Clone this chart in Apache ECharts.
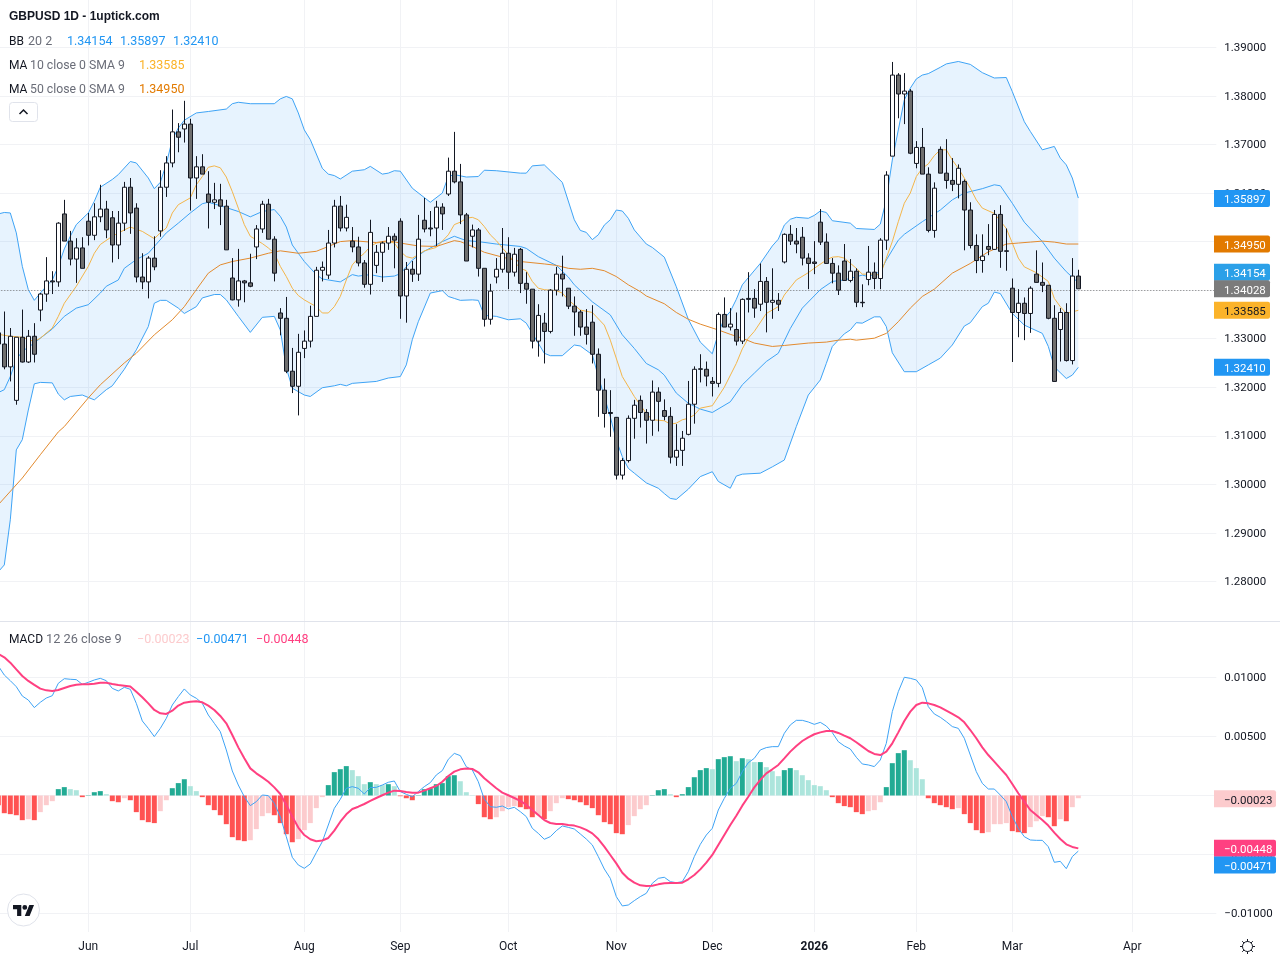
<!DOCTYPE html>
<html>
<head>
<meta charset="utf-8">
<title>GBPUSD 1D</title>
<style>
  html, body { margin: 0; padding: 0; background: #fff; }
  #mychart { width: 1280px; height: 960px; }
</style>
<script src="https://cdn.jsdelivr.net/npm/echarts@6/dist/echarts.min.js"></script>
</head>
<body>
<div id="mychart"></div>
<script>
// tick labels, bar numbers count from the first fully visible candle
const priceTicks = [1.28, 1.29, 1.3, 1.31, 1.32, 1.33, 1.34, 1.35, 1.36, 1.37, 1.38, 1.39];
const macdTicks = [-0.01, -0.005, 0, 0.005, 0.01];
const monthBars = [14, 31, 50, 66, 84, 102, 118, 135, 152, 168, 188];
const monthNames = ['Jun', 'Jul', 'Aug', 'Sep', 'Oct', 'Nov', 'Dec', '2026', 'Feb', 'Mar', 'Apr'];

// open, close, low, high, one row per day starting at bar -1
const candles = [
  [1.3312,1.3289,1.3250,1.3361],[1.3289,1.3242,1.3237,1.3356],[1.3242,1.3305,1.3212,1.3322],[1.3173,1.3303,1.3164,1.3303],
  [1.3303,1.3252,1.3251,1.3360],[1.3252,1.3305,1.3250,1.3318],[1.3305,1.3268,1.3251,1.3332],[1.3359,1.3392,1.3336,1.3394],
  [1.3392,1.3419,1.3376,1.3468],[1.3419,1.3417,1.3392,1.3439],[1.3417,1.3538,1.3407,1.3540],[1.3557,1.3501,1.3501,1.3586],
  [1.3501,1.3464,1.3451,1.3522],[1.3464,1.3487,1.3415,1.3507],[1.3487,1.3445,1.3445,1.3509],[1.3542,1.3513,1.3492,1.3559],
  [1.3513,1.3551,1.3503,1.3579],[1.3551,1.3567,1.3540,1.3617],[1.3567,1.3524,1.3507,1.3584],[1.3549,1.3493,1.3457,1.3563],
  [1.3493,1.3538,1.3464,1.3563],[1.3538,1.3612,1.3522,1.3623],[1.3612,1.3559,1.3516,1.3631],[1.3569,1.3427,1.3416,1.3579],
  [1.3427,1.3417,1.3402,1.3476],[1.3417,1.3466,1.3383,1.3470],[1.3466,1.3448,1.3441,1.3511],[1.3522,1.3612,1.3510,1.3647],
  [1.3612,1.3662,1.3592,1.3676],[1.3662,1.3726,1.3653,1.3772],[1.3726,1.3715,1.3684,1.3744],[1.3732,1.3742,1.3704,1.3790],
  [1.3742,1.3631,1.3564,1.3753],[1.3631,1.3654,1.3588,1.3676],[1.3654,1.3639,1.3639,1.3680],[1.3598,1.3581,1.3527,1.3645],
  [1.3581,1.3586,1.3567,1.3621],[1.3586,1.3573,1.3534,1.3619],[1.3573,1.3483,1.3483,1.3586],[1.3425,1.3380,1.3379,1.3466],
  [1.3380,1.3419,1.3366,1.3485],[1.3419,1.3415,1.3375,1.3421],[1.3415,1.3408,1.3406,1.3475],[1.3489,1.3526,1.3464,1.3534],
  [1.3526,1.3577,1.3518,1.3584],[1.3577,1.3505,1.3505,1.3588],[1.3505,1.3435,1.3418,1.3511],[1.3353,1.3342,1.3307,1.3363],
  [1.3342,1.3233,1.3229,1.3386],[1.3233,1.3202,1.3188,1.3281],[1.3202,1.3272,1.3142,1.3310],[1.3280,1.3295,1.3260,1.3317],
  [1.3295,1.3346,1.3282,1.3368],[1.3346,1.3441,1.3346,1.3448],[1.3441,1.3447,1.3418,1.3459],[1.3431,1.3497,1.3423,1.3524],
  [1.3497,1.3573,1.3488,1.3586],[1.3573,1.3528,1.3521,1.3594],[1.3528,1.3550,1.3521,1.3576],[1.3501,1.3489,1.3478,1.3530],
  [1.3489,1.3456,1.3449,1.3510],[1.3456,1.3412,1.3405,1.3462],[1.3412,1.3519,1.3391,1.3545],[1.3451,1.3478,1.3435,1.3493],
  [1.3478,1.3497,1.3417,1.3500],[1.3497,1.3511,1.3483,1.3530],[1.3511,1.3503,1.3445,1.3517],[1.3542,1.3388,1.3341,1.3548],
  [1.3388,1.3443,1.3333,1.3458],[1.3443,1.3433,1.3417,1.3460],[1.3433,1.3505,1.3419,1.3555],[1.3544,1.3526,1.3519,1.3590],
  [1.3528,1.3526,1.3511,1.3563],[1.3528,1.3571,1.3491,1.3584],[1.3571,1.3557,1.3524,1.3579],[1.3598,1.3645,1.3594,1.3673],
  [1.3645,1.3623,1.3620,1.3726],[1.3623,1.3555,1.3536,1.3660],[1.3555,1.3460,1.3460,1.3559],[1.3511,1.3524,1.3488,1.3535],
  [1.3524,1.3445,1.3428,1.3528],[1.3445,1.3340,1.3325,1.3445],[1.3340,1.3398,1.3329,1.3413],[1.3427,1.3443,1.3414,1.3466],
  [1.3443,1.3476,1.3436,1.3528],[1.3476,1.3437,1.3402,1.3509],[1.3437,1.3474,1.3428,1.3487],[1.3484,1.3414,1.3394,1.3487],
  [1.3414,1.3402,1.3372,1.3437],[1.3402,1.3295,1.3280,1.3402],[1.3295,1.3348,1.3263,1.3371],[1.3332,1.3315,1.3249,1.3353],
  [1.3315,1.3400,1.3311,1.3402],[1.3400,1.3433,1.3389,1.3448],[1.3433,1.3423,1.3387,1.3471],[1.3404,1.3367,1.3361,1.3404],
  [1.3367,1.3355,1.3306,1.3387],[1.3355,1.3324,1.3306,1.3359],[1.3324,1.3309,1.3288,1.3361],[1.3334,1.3268,1.3249,1.3369],
  [1.3268,1.3194,1.3139,1.3280],[1.3194,1.3146,1.3117,1.3218],[1.3148,1.3146,1.3098,1.3194],[1.3138,1.3019,1.3010,1.3138],
  [1.3019,1.3049,1.3010,1.3054],[1.3049,1.3136,1.3045,1.3142],[1.3136,1.3163,1.3094,1.3174],[1.3173,1.3148,1.3117,1.3183],
  [1.3148,1.3132,1.3084,1.3155],[1.3132,1.3190,1.3100,1.3214],[1.3190,1.3171,1.3109,1.3200],[1.3152,1.3140,1.3132,1.3175],
  [1.3140,1.3056,1.3043,1.3159],[1.3056,1.3070,1.3038,1.3124],[1.3070,1.3095,1.3038,1.3110],[1.3103,1.3165,1.3101,1.3213],
  [1.3165,1.3237,1.3125,1.3243],[1.3238,1.3237,1.3210,1.3268],[1.3237,1.3223,1.3202,1.3253],[1.3212,1.3208,1.3181,1.3221],
  [1.3208,1.3350,1.3200,1.3354],[1.3350,1.3324,1.3324,1.3385],[1.3324,1.3330,1.3317,1.3363],[1.3319,1.3295,1.3286,1.3354],
  [1.3295,1.3381,1.3289,1.3383],[1.3383,1.3381,1.3354,1.3437],[1.3383,1.3363,1.3343,1.3402],[1.3371,1.3418,1.3357,1.3455],
  [1.3418,1.3375,1.3313,1.3427],[1.3375,1.3379,1.3341,1.3445],[1.3379,1.3371,1.3357,1.3394],[1.3458,1.3515,1.3455,1.3517],
  [1.3515,1.3501,1.3493,1.3534],[1.3501,1.3495,1.3476,1.3528],[1.3509,1.3466,1.3451,1.3530],[1.3466,1.3455,1.3402,1.3476],
  [1.3458,1.3455,1.3433,1.3501],[1.3540,1.3499,1.3493,1.3567],[1.3499,1.3455,1.3455,1.3517],[1.3455,1.3435,1.3414,1.3466],
  [1.3435,1.3400,1.3390,1.3451],[1.3460,1.3420,1.3420,1.3495],[1.3420,1.3439,1.3416,1.3464],[1.3439,1.3375,1.3365,1.3445],
  [1.3375,1.3374,1.3365,1.3412],[1.3422,1.3437,1.3410,1.3491],[1.3437,1.3424,1.3402,1.3457],[1.3424,1.3503,1.3402,1.3507],
  [1.3503,1.3637,1.3483,1.3645],[1.3676,1.3843,1.3676,1.3870],[1.3843,1.3804,1.3754,1.3847],[1.3804,1.3810,1.3742,1.3847],
  [1.3810,1.3682,1.3680,1.3814],[1.3661,1.3694,1.3651,1.3707],[1.3694,1.3639,1.3639,1.3734],[1.3639,1.3523,1.3519,1.3653],
  [1.3523,1.3610,1.3508,1.3622],[1.3690,1.3641,1.3641,1.3696],[1.3641,1.3626,1.3609,1.3711],[1.3626,1.3618,1.3604,1.3672],
  [1.3618,1.3651,1.3589,1.3659],[1.3624,1.3565,1.3482,1.3628],[1.3565,1.3492,1.3486,1.3581],[1.3492,1.3461,1.3435,1.3515],
  [1.3461,1.3470,1.3436,1.3515],[1.3490,1.3484,1.3472,1.3536],[1.3484,1.3556,1.3483,1.3565],[1.3556,1.3480,1.3446,1.3575],
  [1.3481,1.3480,1.3440,1.3527],[1.3404,1.3354,1.3252,1.3424],[1.3354,1.3373,1.3303,1.3402],[1.3373,1.3352,1.3297,1.3385],
  [1.3352,1.3404,1.3312,1.3408],[1.3433,1.3416,1.3416,1.3482],[1.3416,1.3410,1.3396,1.3457],[1.3410,1.3342,1.3340,1.3410],
  [1.3342,1.3212,1.3212,1.3369],[1.3319,1.3354,1.3253,1.3363],[1.3354,1.3255,1.3253,1.3373],[1.3255,1.3429,1.3247,1.3466],
  [1.3429,1.34028,1.34028,1.3442]
];

const bbUpper = [[-1,1.3557],[0,1.3560],[1,1.3559],[2,1.3518],[3,1.3449],[4,1.3401],[5,1.3379],[6,1.3394],[7,1.3408],[8,1.3421],[9,1.3449],[10,1.3485],[11,1.3511],[12,1.3535],[14,1.3559],[15,1.3583],[16,1.3612],[18,1.3628],[19,1.3638],[21,1.3665],[22,1.3662],[24,1.3631],[25,1.3609],[26,1.3622],[27,1.3660],[28,1.3710],[29,1.3734],[30,1.3750],[32,1.3765],[34,1.3768],[37,1.3773],[38,1.3784],[39,1.3787],[41,1.3784],[45,1.3784],[46,1.3794],[47,1.3799],[48,1.3794],[49,1.3765],[50,1.3730],[51,1.3710],[53,1.3651],[54,1.3639],[55,1.3636],[56,1.3629],[58,1.3645],[60,1.3648],[61,1.3655],[63,1.3639],[64,1.3641],[65,1.3646],[66,1.3645],[68,1.3610],[71,1.3581],[73,1.3600],[74,1.3634],[75,1.3638],[77,1.3633],[79,1.3634],[80,1.3647],[82,1.3646],[86,1.3641],[87,1.3641],[88,1.3656],[90,1.3658],[93,1.3622],[95,1.3545],[96,1.3523],[97,1.3519],[98,1.3504],[99,1.3514],[100,1.3534],[101,1.3545],[102,1.3565],[103,1.3563],[104,1.3548],[105,1.3524],[107,1.3495],[108,1.3488],[110,1.3468],[112,1.3407],[114,1.3340],[116,1.3293],[118,1.3269],[119,1.3311],[120,1.3342],[121,1.3356],[122,1.3381],[123,1.3411],[126,1.3455],[128,1.3491],[129,1.3505],[130,1.3534],[131,1.3546],[132,1.3550],[134,1.3548],[135,1.3554],[136,1.3563],[137,1.3560],[138,1.3543],[141,1.3538],[142,1.3527],[145,1.3525],[146,1.3536],[147,1.3586],[148,1.3668],[149,1.3730],[150,1.3792],[151,1.3816],[152,1.3835],[153,1.3843],[154,1.3846],[156,1.3859],[157,1.3866],[159,1.3871],[161,1.3865],[163,1.3848],[165,1.3837],[167,1.3838],[168,1.3809],[170,1.3747],[171,1.3727],[173,1.3689],[175,1.3696],[176,1.3672],[177,1.3658],[178,1.3631],[179,1.35897]];
const bbMiddle = [[-1,1.3189],[0,1.3195],[1,1.3222],[2,1.3257],[3,1.3274],[5,1.3291],[6,1.3301],[8,1.3320],[10,1.3346],[12,1.3363],[14,1.3370],[16,1.3394],[17,1.3408],[19,1.3421],[20,1.3445],[22,1.3463],[24,1.3476],[25,1.3490],[27,1.3518],[29,1.3538],[31,1.3559],[33,1.3578],[34,1.3581],[36,1.3574],[39,1.3562],[41,1.3551],[43,1.3562],[45,1.3566],[46,1.3552],[47,1.3530],[48,1.3493],[50,1.3459],[52,1.3432],[53,1.3423],[56,1.3417],[58,1.3432],[59,1.3429],[61,1.3432],[63,1.3427],[65,1.3429],[66,1.3434],[68,1.3462],[70,1.3480],[73,1.3500],[75,1.3511],[77,1.3502],[79,1.3500],[82,1.3495],[86,1.3490],[87,1.3486],[89,1.3469],[92,1.3451],[94,1.3427],[95,1.3411],[98,1.3376],[101,1.3349],[103,1.3308],[105,1.3280],[107,1.3249],[109,1.3236],[110,1.3225],[112,1.3188],[114,1.3167],[116,1.3155],[118,1.3148],[121,1.3170],[123,1.3205],[125,1.3229],[127,1.3253],[129,1.3270],[131,1.3321],[133,1.3363],[136,1.3401],[138,1.3418],[140,1.3421],[143,1.3431],[144,1.3428],[146,1.3438],[147,1.3462],[149,1.3503],[150,1.3515],[153,1.3541],[156,1.3565],[158,1.3586],[160,1.3600],[163,1.3609],[165,1.3617],[166,1.3615],[168,1.3579],[170,1.3540],[173,1.3500],[175,1.3466],[177,1.3438],[179,1.34154]];
const bbLower = [[-1,1.2820],[0,1.2834],[1,1.2927],[2,1.3071],[3,1.3092],[4,1.3153],[5,1.3207],[6,1.3210],[8,1.3209],[9,1.3186],[10,1.3174],[11,1.3181],[13,1.3184],[15,1.3174],[17,1.3195],[18,1.3203],[20,1.3237],[22,1.3277],[24,1.3325],[25,1.3373],[26,1.3379],[27,1.3379],[29,1.3363],[30,1.3352],[32,1.3366],[33,1.3384],[35,1.3391],[36,1.3391],[37,1.3380],[39,1.3346],[41,1.3313],[43,1.3344],[45,1.3346],[46,1.3318],[47,1.3240],[48,1.3198],[49,1.3191],[50,1.3184],[51,1.3181],[53,1.3199],[55,1.3203],[56,1.3206],[57,1.3203],[58,1.3208],[62,1.3212],[64,1.3219],[66,1.3222],[67,1.3246],[68,1.3298],[69,1.3335],[71,1.3394],[73,1.3399],[74,1.3387],[75,1.3383],[76,1.3379],[78,1.3380],[79,1.3379],[80,1.3348],[82,1.3346],[84,1.3339],[86,1.3341],[87,1.3332],[88,1.3311],[90,1.3270],[91,1.3265],[93,1.3265],[95,1.3287],[96,1.3285],[98,1.3267],[99,1.3222],[100,1.3181],[101,1.3139],[102,1.3091],[103,1.3057],[104,1.3033],[105,1.3023],[107,1.3003],[109,1.2992],[110,1.2981],[111,1.2971],[112,1.2969],[114,1.2990],[116,1.3016],[118,1.3026],[119,1.3006],[121,1.2992],[122,1.3017],[123,1.3021],[126,1.3023],[128,1.3036],[130,1.3050],[132,1.3119],[134,1.3184],[136,1.3215],[137,1.3249],[138,1.3284],[140,1.3310],[141,1.3318],[142,1.3333],[143,1.3332],[145,1.3345],[146,1.3345],[147,1.3325],[148,1.3271],[150,1.3232],[152,1.3232],[154,1.3246],[156,1.3260],[158,1.3287],[160,1.3326],[161,1.3333],[163,1.3366],[164,1.3373],[165,1.3396],[166,1.3393],[168,1.3352],[170,1.3328],[173,1.3311],[174,1.3284],[175,1.3242],[177,1.3218],[178,1.3225],[179,1.3241]];
const ma10 = [[-1,1.3309],[1,1.3305],[3,1.3303],[5,1.3294],[6,1.3301],[8,1.3322],[9,1.3346],[10,1.3373],[12,1.3408],[14,1.3449],[15,1.3476],[16,1.3494],[18,1.3511],[20,1.3524],[21,1.3530],[23,1.3521],[25,1.3506],[26,1.3518],[27,1.3528],[28,1.3559],[29,1.3576],[31,1.3590],[32,1.3617],[33,1.3634],[34,1.3653],[35,1.3656],[36,1.3652],[37,1.3633],[38,1.3603],[39,1.3569],[40,1.3535],[41,1.3511],[43,1.3496],[44,1.3487],[45,1.3476],[46,1.3449],[47,1.3428],[48,1.3404],[49,1.3389],[50,1.3380],[52,1.3366],[53,1.3353],[54,1.3353],[55,1.3366],[56,1.3387],[57,1.3421],[58,1.3452],[59,1.3466],[60,1.3476],[61,1.3490],[62,1.3497],[63,1.3499],[64,1.3500],[65,1.3497],[66,1.3480],[67,1.3469],[68,1.3466],[69,1.3473],[70,1.3481],[72,1.3488],[74,1.3514],[75,1.3535],[76,1.3540],[77,1.3548],[78,1.3550],[79,1.3545],[80,1.3531],[81,1.3514],[82,1.3502],[83,1.3487],[84,1.3473],[85,1.3459],[86,1.3445],[87,1.3440],[88,1.3418],[89,1.3404],[90,1.3401],[92,1.3399],[93,1.3394],[94,1.3380],[96,1.3359],[98,1.3354],[100,1.3328],[101,1.3297],[103,1.3222],[105,1.3181],[107,1.3146],[108,1.3133],[110,1.3131],[111,1.3124],[112,1.3126],[113,1.3133],[114,1.3136],[115,1.3143],[116,1.3157],[118,1.3162],[119,1.3181],[120,1.3200],[122,1.3249],[123,1.3279],[124,1.3301],[125,1.3315],[127,1.3352],[129,1.3366],[130,1.3390],[132,1.3421],[134,1.3436],[135,1.3445],[137,1.3462],[138,1.3468],[139,1.3469],[140,1.3466],[142,1.3445],[143,1.3433],[145,1.3433],[146,1.3431],[147,1.3466],[148,1.3500],[149,1.3541],[150,1.3579],[151,1.3600],[152,1.3634],[153,1.3651],[154,1.3660],[155,1.3677],[156,1.3689],[157,1.3689],[158,1.3668],[159,1.3651],[160,1.3631],[161,1.3610],[162,1.3586],[163,1.3569],[165,1.3558],[167,1.3527],[168,1.3497],[169,1.3466],[170,1.3448],[171,1.3442],[172,1.3436],[174,1.3418],[175,1.3383],[176,1.3366],[177,1.3352],[179,1.33585]];
const ma50 = [[-1,1.2958],[3,1.3013],[6,1.3061],[9,1.3108],[10,1.3119],[14,1.3178],[16,1.3205],[20,1.3250],[22,1.3270],[25,1.3308],[28,1.3339],[30,1.3366],[32,1.3401],[34,1.3435],[36,1.3452],[38,1.3459],[41,1.3466],[44,1.3476],[46,1.3481],[49,1.3476],[52,1.3480],[54,1.3490],[56,1.3500],[58,1.3502],[62,1.3498],[64,1.3502],[66,1.3497],[69,1.3491],[72,1.3490],[75,1.3502],[76,1.3500],[78,1.3490],[80,1.3478],[83,1.3468],[86,1.3459],[90,1.3454],[92,1.3451],[94,1.3445],[96,1.3443],[98,1.3445],[100,1.3440],[102,1.3428],[104,1.3411],[106,1.3397],[107,1.3388],[110,1.3372],[112,1.3354],[114,1.3340],[116,1.3330],[119,1.3318],[121,1.3309],[123,1.3301],[125,1.3291],[128,1.3284],[130,1.3286],[134,1.3291],[137,1.3293],[139,1.3297],[141,1.3299],[142,1.3297],[145,1.3301],[147,1.3311],[149,1.3335],[151,1.3363],[153,1.3387],[155,1.3402],[158,1.3435],[161,1.3455],[164,1.3479],[167,1.3495],[169,1.3497],[171,1.3499],[173,1.3501],[175,1.3499],[177,1.3495],[179,1.3495]];

// MACD pane, one value per day starting at bar -1
const macdHist = [-.00082,-.0015,-.00158,-.00167,-.00209,-.00201,-.00209,-.00141,-.00082,-.00048,.00054,.00071,.00054,.00045,-.00014,.00003,.00028,.00037,.00011,-.00048,-.00057,-.00023,-.0004,-.00141,-.00209,-.00226,-.00234,-.00133,-.0004,.00062,.00105,.00138,.00079,.00037,-.00014,-.00082,-.00124,-.00167,-.00243,-.00353,-.00379,-.00387,-.00379,-.00285,-.00175,-.0015,-.00167,-.00234,-.00328,-.00396,-.0037,-.00294,-.00234,-.00107,-.00014,.00088,.00198,.00223,.00249,.00215,.00164,.00096,.00113,.00096,.00088,.00096,.00079,-.00006,-.00023,-.0004,.00003,.00054,.00062,.00096,.00105,.00164,.00172,.00121,.00028,.00003,-.00073,-.00184,-.00201,-.00184,-.00133,-.00099,-.0009,-.00099,-.00116,-.00184,-.00167,-.00201,-.00133,-.00065,-.00023,-.00031,-.0004,-.00057,-.00082,-.00107,-.00167,-.00226,-.00243,-.00319,-.00328,-.00251,-.00175,-.00116,-.00082,.00003,.00045,.00054,.00011,-.00014,.00011,.00071,.00155,.00215,.00232,.00223,.00308,.00325,.00333,.00291,.00316,.00308,.00283,.00283,.0024,.00206,.00164,.00215,.00232,.00215,.00172,.0013,.00088,.00079,.00045,-.00014,-.00065,-.0009,-.00099,-.00141,-.00158,-.00133,-.00124,-.00057,.00071,.00274,.00359,.00384,.00299,.00232,.00138,-.00023,-.00065,-.00082,-.00099,-.00116,-.00107,-.00158,-.00234,-.00294,-.00319,-.00311,-.00243,-.00243,-.00234,-.00302,-.00311,-.00319,-.00268,-.00218,-.00175,-.00184,-.0026,-.00201,-.00218,-.00099,-.00023];
const macdLine = [.01098,.01021,.00973,.00922,.00843,.00809,.00745,.0079,.00826,.00846,.00951,.0099,.00985,.00982,.00942,.00959,.00979,.00993,.00973,.00908,.00886,.00917,.009,.00781,.00632,.00569,.00499,.00569,.00654,.00767,.00838,.00903,.00852,.00824,.00781,.00682,.00612,.00541,.00386,.00208,.00089,-.0001,-.00086,-.00052,.00004,-.00001,-.00066,-.00179,-.00349,-.00524,-.00589,-.00617,-.0058,-.00484,-.00391,-.0025,-.00109,-.00032,.00061,.00075,.00061,.00013,.00067,.00069,.00089,.00112,.00123,.00033,.0001,-.0001,.00033,.00075,.00109,.00174,.00211,.00307,.00357,.00338,.00244,.00216,.00117,-.00032,-.00095,-.001,-.00089,-.00114,-.001,-.00137,-.00179,-.00278,-.00321,-.00371,-.00349,-.00298,-.00258,-.0027,-.00284,-.00326,-.00369,-.00419,-.00518,-.00623,-.00702,-.00857,-.00936,-.00928,-.00891,-.00857,-.00829,-.00744,-.00702,-.00693,-.0073,-.00739,-.0073,-.00645,-.00518,-.00414,-.00335,-.00278,-.00123,-.00024,.00061,.00103,.00202,.00278,.00315,.00386,.00406,.00414,.00414,.00527,.00598,.00637,.00637,.00623,.00603,.0062,.00589,.00533,.00456,.0042,.00394,.00324,.00267,.00259,.00245,.00301,.00442,.00711,.0088,.01002,.00993,.00979,.00914,.00753,.00691,.00663,.00626,.00584,.00569,.00485,.00343,.00202,.00103,.00055,.00055,.00004,-.00052,-.00179,-.00278,-.00349,-.00377,-.0038,-.0038,-.00434,-.00566,-.00558,-.0062,-.00518,-.00471];
const signalLine = [.01199,.01171,.01126,.01069,.01013,.00971,.00937,.00906,.00891,.00886,.00894,.00911,.00928,.00939,.00942,.00942,.00948,.00956,.00956,.00945,.00937,.00931,.00923,.0088,.00832,.00781,.00725,.00697,.00691,.00719,.00762,.00787,.00795,.00798,.0079,.00762,.00725,.00674,.00612,.00513,.00408,.00315,.0023,.00188,.00154,.00117,.00069,.00013,-.0008,-.00179,-.00272,-.00335,-.00371,-.00388,-.00381,-.0036,-.00298,-.00222,-.00159,-.00114,-.00095,-.00072,-.00046,-.00021,.00002,.00024,.00041,.00038,.0003,.00024,.00024,.00041,.00061,.00081,.00117,.00165,.00202,.00222,.00228,.00225,.00197,.00146,.00103,.00061,.00024,.00002,-.00021,-.00046,-.0008,-.00123,-.00165,-.00208,-.00233,-.00241,-.00241,-.0025,-.00255,-.0027,-.00292,-.00321,-.00369,-.00434,-.00504,-.00575,-.00654,-.00705,-.00739,-.00761,-.00767,-.00764,-.00753,-.00744,-.00741,-.00741,-.00739,-.0071,-.00674,-.00626,-.00569,-.00504,-.00419,-.00335,-.0025,-.00171,-.00086,-.0001,.00069,.00132,.00188,.00222,.00259,.00315,.00372,.0042,.00462,.00493,.00519,.00535,.00547,.00547,.0053,.00507,.00485,.00451,.00414,.00377,.00352,.00343,.00372,.00442,.00535,.00632,.00711,.00767,.00787,.00781,.00767,.00747,.00719,.00691,.00663,.0062,.00555,.00485,.00408,.00343,.00287,.0023,.00174,.00098,.00019,-.00052,-.00123,-.00165,-.00208,-.00255,-.00315,-.00369,-.00414,-.00436,-.00448];

// last values shown in the legends and on the right scale
const lastClose = 1.34028;
const lastBB = [1.34154, 1.35897, 1.3241];
const lastMA10 = 1.33585;
const lastMA50 = 1.3495;
const lastHist = -0.00023;
const lastMacd = -0.00471;
const lastSignal = -0.00448;

const colors = {
  text: '#131722',
  muted: '#6a6d78',
  grid: '#f1f2f5',
  sep: '#e0e3eb',
  wick: '#131722',
  downBody: '#6e6e6e',
  bb: '#3ea3f5',
  bbPill: '#2196f3',
  bbMid: '#2ba0e8',
  bbFill: 'rgba(33,150,243,0.11)',
  ma10: '#f3b54a',
  ma10Pill: '#fbb32a',
  ma50: '#e28a2e',
  ma50Pill: '#e27a00',
  close: '#7b7b7b',
  signal: '#ff4081',
  histUp: '#22ab94',
  histUpFade: '#ace5dc',
  histDown: '#ff5252',
  histDownFade: '#fccbcd',
};
const FONT = 'Roboto, sans-serif';

// category axis runs from bar -1 to the empty space right of the last candle
const categories = Array.from({ length: 204 }, (_, i) => String(i - 1));
const barToIdx = (bar) => bar + 1;
const isMonthIdx = (idx) => monthBars.includes(idx - 1);
const toPairs = (list) => list.map((p) => [barToIdx(p[0]), p[1]]);
const fmtMinus = (v, d) => v.toFixed(d).replace('-', '\u2212');

function histColor(v, i) {
  let prev = i > 0 ? macdHist[i - 1] : v;
  if (v >= 0) return v >= prev ? colors.histUp : colors.histUpFade;
  return v < prev || i === 0 ? colors.histDown : colors.histDownFade;
}

function lineSeries(name, pairs, color, width) {
  return {
    name,
    type: 'line',
    data: toPairs(pairs),
    showSymbol: false,
    silent: true,
    z: 3,
    lineStyle: { color, width },
  };
}

// fill between the two outer bands
function renderBand(params, api) {
  let top = bbUpper.map((p) => api.coord([barToIdx(p[0]), p[1]]));
  let bottom = bbLower.map((p) => api.coord([barToIdx(p[0]), p[1]])).reverse();
  return {
    type: 'polygon',
    shape: { points: top.concat(bottom) },
    style: { fill: colors.bbFill },
  };
}

const xSplit = {
  show: true,
  interval: (idx) => isMonthIdx(idx),
  lineStyle: { color: colors.grid, width: 1 },
};

let option = {
  animation: false,
  backgroundColor: '#ffffff',
  textStyle: { fontFamily: FONT },
  grid: [
    { left: -1.7, width: 1218, top: 0, height: 621, outerBoundsMode: 'none' },
    { left: -1.7, width: 1218, top: 622, height: 310, outerBoundsMode: 'none' },
  ],
  xAxis: [
    {
      type: 'category',
      gridIndex: 0,
      data: categories,
      boundaryGap: false,
      axisLine: { show: false },
      axisTick: { show: false },
      axisLabel: { show: false },
      splitLine: xSplit,
    },
    {
      type: 'category',
      gridIndex: 1,
      data: categories,
      boundaryGap: false,
      axisLine: { show: false, onZero: false },
      axisTick: { show: false },
      axisLabel: {
        interval: (idx) => isMonthIdx(idx),
        margin: 9,
        color: colors.text,
        fontSize: 12,
        fontFamily: FONT,
        formatter: (value) => {
          let name = monthNames[monthBars.indexOf(Number(value))];
          return name === '2026' ? '{year|2026}' : name;
        },
        rich: { year: { fontWeight: 'bold', fontSize: 12, color: colors.text, fontFamily: FONT } },
      },
      splitLine: xSplit,
    },
  ],
  yAxis: [
    {
      type: 'value',
      gridIndex: 0,
      position: 'right',
      min: 1.271854,
      max: 1.399763,
      axisLine: { show: false },
      axisTick: { show: false, customValues: priceTicks },
      axisLabel: {
        customValues: priceTicks,
        margin: 8,
        verticalAlign: 'top',
        padding: [-5.25, 0, 0, 0],
        color: colors.text,
        fontSize: 11.5,
        fontFamily: FONT,
        formatter: (v) => v.toFixed(5),
      },
      splitLine: { lineStyle: { color: colors.grid, width: 1 } },
    },
    {
      type: 'value',
      gridIndex: 1,
      position: 'right',
      min: -0.011568,
      max: 0.014704,
      axisLine: { show: false },
      axisTick: { show: false, customValues: macdTicks },
      axisLabel: {
        customValues: macdTicks,
        margin: 8,
        verticalAlign: 'top',
        padding: [-5.25, 0, 0, 0],
        color: colors.text,
        fontSize: 11.5,
        fontFamily: FONT,
        formatter: (v) => fmtMinus(v, 5),
      },
      splitLine: { lineStyle: { color: colors.grid, width: 1 } },
    },
  ],
  series: [
    {
      name: 'BB fill',
      type: 'custom',
      data: [[0, lastBB[0]]],
      renderItem: renderBand,
      silent: true,
      clip: true,
      z: 2,
    },
    lineSeries('BB upper', bbUpper, colors.bb, 1),
    lineSeries('BB middle', bbMiddle, colors.bb, 1),
    lineSeries('BB lower', bbLower, colors.bb, 1),
    lineSeries('MA 10', ma10, colors.ma10, 1),
    lineSeries('MA 50', ma50, colors.ma50, 1),
    {
      name: 'GBPUSD',
      type: 'candlestick',
      data: candles,
      barWidth: 4,
      z: 5,
      silent: true,
      itemStyle: {
        color: '#ffffff',
        color0: colors.downBody,
        borderColor: colors.wick,
        borderColor0: colors.wick,
        borderColorDoji: colors.wick,
        borderWidth: 1,
      },
      markLine: {
        silent: true,
        symbol: 'none',
        label: { show: false },
        lineStyle: { color: colors.close, type: [1, 2], width: 1 },
        data: [{ yAxis: lastClose }],
      },
    },
    {
      name: 'Histogram',
      type: 'bar',
      xAxisIndex: 1,
      yAxisIndex: 1,
      barWidth: 5,
      silent: true,
      data: macdHist.map((v, i) => ({ value: v, itemStyle: { color: histColor(v, i) } })),
    },
    {
      name: 'MACD',
      type: 'line',
      xAxisIndex: 1,
      yAxisIndex: 1,
      data: macdLine,
      showSymbol: false,
      silent: true,
      z: 4,
      lineStyle: { color: colors.bb, width: 1 },
    },
    {
      name: 'Signal',
      type: 'line',
      xAxisIndex: 1,
      yAxisIndex: 1,
      data: signalLine,
      showSymbol: false,
      silent: true,
      z: 5,
      lineStyle: { color: colors.signal, width: 2 },
    },
  ],
};

const LEGEND_DY = 2;

function textEl(x, y, text, fill, opts) {
  return {
    type: 'text',
    z: 100,
    x,
    y: y + LEGEND_DY,
    style: Object.assign(
      { text, fill, font: '12.5px ' + FONT, textVerticalAlign: 'middle' },
      opts || {}
    ),
  };
}

// coloured value tag on the right scale, dy moves it off a neighbour
function pill(axis, value, fill, textFill, width, dy, digits) {
  let y = myChart.convertToPixel({ yAxisIndex: axis }, value) + (dy || 0);
  return [
    {
      type: 'rect',
      z: 99,
      shape: { x: 1214, y: y - 8.5, width, height: 17, r: [0, 2, 2, 0] },
      style: { fill },
    },
    textEl(1224, y, fmtMinus(value, digits), textFill, { font: '11.5px ' + FONT }),
  ];
}

function buildOverlay() {
  let els = [];
  let nameFont = { font: '12px ' + FONT };
  let paramFont = { font: '12.25px ' + FONT };
  els.push({
    type: 'line',
    z: 90,
    shape: { x1: 0, y1: 621.5, x2: 1280, y2: 621.5 },
    style: { stroke: colors.sep, lineWidth: 1 },
  });

  // legends
  els.push(textEl(9, 15, 'GBPUSD 1D - 1uptick.com', colors.text, { font: 'bold 12px "Liberation Sans", Arial, sans-serif' }));
  els.push(textEl(9, 40, 'BB', colors.text, nameFont));
  els.push(textEl(28, 40, '20 2', colors.muted));
  els.push(textEl(67, 40, lastBB[0].toFixed(5), colors.bbPill));
  els.push(textEl(120, 40, lastBB[1].toFixed(5), colors.bbPill));
  els.push(textEl(173, 40, lastBB[2].toFixed(5), colors.bbPill));
  els.push(textEl(9, 64, 'MA', colors.text, nameFont));
  els.push(textEl(30, 64, '10 close 0 SMA 9', colors.muted, paramFont));
  els.push(textEl(139, 64, lastMA10.toFixed(5), colors.ma10Pill));
  els.push(textEl(9, 88, 'MA', colors.text, nameFont));
  els.push(textEl(30, 88, '50 close 0 SMA 9', colors.muted, paramFont));
  els.push(textEl(139, 88, lastMA50.toFixed(5), colors.ma50Pill));
  els.push(textEl(9, 638, 'MACD', colors.text, nameFont));
  els.push(textEl(46, 638, '12 26 close 9', colors.muted, { font: '12.75px ' + FONT }));
  els.push(textEl(137, 638, fmtMinus(lastHist, 5), colors.histDownFade));
  els.push(textEl(196, 638, fmtMinus(lastMacd, 5), colors.bbPill));
  els.push(textEl(256, 638, fmtMinus(lastSignal, 5), colors.signal));

  // collapse button
  els.push({
    type: 'rect',
    z: 99,
    shape: { x: 9.5, y: 102.5, width: 28, height: 19, r: 3 },
    style: { fill: '#fff', stroke: colors.sep, lineWidth: 1 },
  });
  els.push({
    type: 'polyline',
    z: 100,
    shape: { points: [[19.5, 114], [23.5, 110], [27.5, 114]] },
    style: { fill: 'none', stroke: colors.text, lineWidth: 1.5 },
  });

  // TradingView badge
  els.push({
    type: 'circle',
    z: 99,
    shape: { cx: 23.5, cy: 910, r: 16 },
    style: { fill: '#fff', stroke: colors.sep, lineWidth: 1 },
  });
  els.push({
    type: 'polygon',
    z: 100,
    shape: { points: [[21.3, 916], [17.1, 916], [17.1, 909.3], [13, 909.3], [13, 905], [21.3, 905]] },
    style: { fill: colors.text },
  });
  els.push({
    type: 'polygon',
    z: 100,
    shape: { points: [[29.6, 916], [24.8, 916], [29.3, 905], [34, 905]] },
    style: { fill: colors.text },
  });
  els.push({
    type: 'circle',
    z: 100,
    shape: { cx: 24.8, cy: 907.4, r: 2.4 },
    style: { fill: colors.text },
  });

  // settings gear
  els.push({
    type: 'circle',
    z: 100,
    shape: { cx: 1247.5, cy: 946.5, r: 5 },
    style: { fill: 'none', stroke: colors.text, lineWidth: 1 },
  });
  for (let i = 0; i < 8; i++) {
    let a = (i * Math.PI) / 4;
    els.push({
      type: 'line',
      z: 100,
      shape: {
        x1: 1247.5 + Math.cos(a) * 5,
        y1: 946.5 + Math.sin(a) * 5,
        x2: 1247.5 + Math.cos(a) * 7.5,
        y2: 946.5 + Math.sin(a) * 7.5,
      },
      style: { stroke: colors.text, lineWidth: 1 },
    });
  }

  // value tags
  els = els.concat(
    pill(0, lastBB[1], colors.bbPill, '#fff', 56, 0.5, 5),
    pill(0, lastMA50, colors.ma50Pill, '#fff', 56, 0, 5),
    pill(0, lastBB[0], colors.bbMid, '#fff', 56, -10.5, 5),
    pill(0, lastClose, colors.close, '#fff', 56, 0, 5),
    pill(0, lastMA10, colors.ma10Pill, colors.text, 56, 0, 5),
    pill(0, lastBB[2], colors.bbPill, '#fff', 56, 0, 5),
    pill(1, lastHist, colors.histDownFade, colors.text, 62, 0.5, 5),
    pill(1, lastSignal, colors.signal, '#fff', 62, 0, 5),
    pill(1, lastMacd, colors.bbPill, '#fff', 62, 14, 5)
  );
  return els;
}

let myChart;

function initChart() {
  myChart = echarts.init(document.getElementById('mychart'));
  myChart.setOption(option);
  myChart.setOption({ graphic: { elements: buildOverlay() } });
}

initChart();
</script>
</body>
</html>
